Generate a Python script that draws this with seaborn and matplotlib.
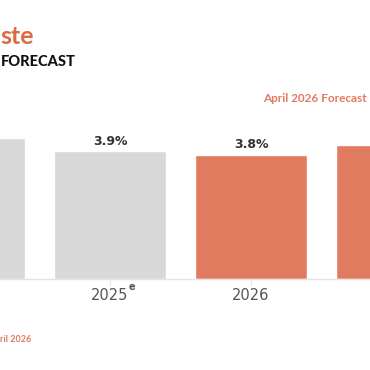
import matplotlib
matplotlib.use("Agg")
import matplotlib.pyplot as plt
import seaborn as sns
import pandas as pd

# Data
years = ["2024", "2025", "2026", "2027"]
tick_labels = ["", "2025", "2026", ""]  # outer labels fall outside the visible crop
estimate_mark = ["", "e", "", ""]
growth = [4.3, 3.9, 3.8, 4.1]
kind = ["Actual", "Actual", "Forecast", "Forecast"]
value_labels = ["", "3.9%", "3.8%", ""]

GRAY = "#d8d8d8"
ORANGE = "#e07b60"
TITLE_ORANGE = "#dc6a45"

sns.set_theme(style="white")
plt.rcParams["font.family"] = ["Lato", "DejaVu Sans"]

df = pd.DataFrame({"year": years, "growth": growth, "kind": kind})

fig = plt.figure(figsize=(3.7, 3.7), dpi=100)
fig.patch.set_facecolor("white")
ax = fig.add_axes([-101.5 / 370, 91 / 370, 564 / 370, 163.5 / 370])

sns.barplot(data=df, x="year", y="growth", hue="kind",
            palette={"Actual": GRAY, "Forecast": ORANGE},
            width=0.8, dodge=False, legend=False, ax=ax, saturation=1)

ax.set_xlim(-0.5, 3.5)
ax.set_ylim(0, 5)
ax.set_xlabel("")
ax.set_ylabel("")
ax.set_yticks([])
ax.set_xticks(range(len(years)))
ax.set_xticklabels(tick_labels, fontsize=10.5, color="#555555", family="DejaVu Sans")
ax.tick_params(axis="x", length=4, width=0.8, color="#e4e4e4", pad=2.5, bottom=True)
for s in ["top", "right", "left"]:
    ax.spines[s].set_visible(False)
ax.spines["bottom"].set_color("#e4e4e4")
ax.spines["bottom"].set_linewidth(1)

for i, m in enumerate(estimate_mark):
    if m:
        ax.annotate(m, xy=(i, 0), xycoords=("data", "axes fraction"),
                    xytext=(15.5, -6), textcoords="offset points",
                    ha="center", va="center", fontsize=7, fontweight="bold",
                    color="#555555", family="DejaVu Sans")

for i, (v, lab) in enumerate(zip(growth, value_labels)):
    if lab:
        ax.annotate(lab, (i, v), xytext=(0, 2.5), textcoords="offset points",
                    ha="center", va="bottom", fontsize=9, fontweight="bold",
                    color="#333333", family="DejaVu Sans")

fig.text(0 / 370, 1 - 36 / 370, "ste", fontsize=18, fontweight="bold",
         color=TITLE_ORANGE, ha="left", va="center")
fig.text(1 / 370, 1 - 62 / 370, "FORECAST", fontsize=10.5, fontweight=900,
         color="#111111", ha="left", va="center")
fig.text(367 / 370, 1 - 98 / 370, "April 2026 Forecast", fontsize=8.5,
         fontweight="bold", color=ORANGE, ha="right", va="center")
fig.text(0 / 370, 1 - 339 / 370, "ril 2026", fontsize=6.5, fontweight="bold",
         color=ORANGE, ha="left", va="center")

fig.savefig("out.png", dpi=100)
